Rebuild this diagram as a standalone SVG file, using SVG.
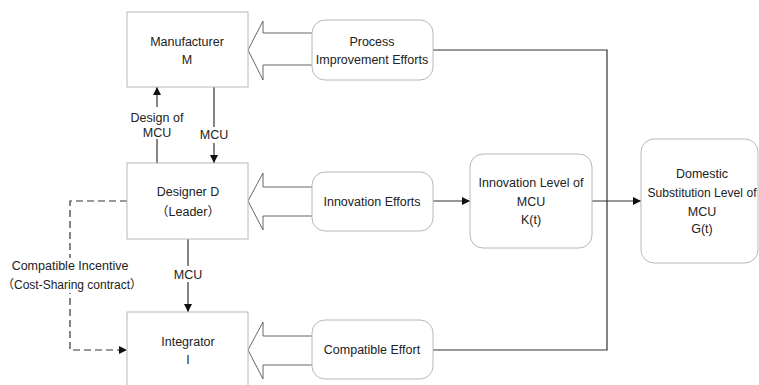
<svg xmlns="http://www.w3.org/2000/svg" width="759" height="385" viewBox="0 0 759 385">
<defs>
<marker id="ah" viewBox="0 0 10 10" refX="10" refY="5" markerWidth="8" markerHeight="8" markerUnits="userSpaceOnUse" orient="auto">
<path d="M0,0 L10,5 L0,10 z" fill="#111"/>
</marker>
</defs>
<style>
text{font-family:"Liberation Sans","Noto Sans CJK SC",Arial,sans-serif;font-size:12.5px;fill:#222;text-anchor:middle}
.box{fill:#fff;stroke:#b8b8b8;stroke-width:1}
.rbox{fill:#fff;stroke:#b8b8b8;stroke-width:1}
.blk{fill:#fff;stroke:#666;stroke-width:1}
.ln{fill:none;stroke:#333;stroke-width:1.2}
.dash{fill:none;stroke:#333;stroke-width:1.2;stroke-dasharray:7,4}
.bg{fill:#fff}
</style>
<rect width="759" height="385" fill="#fff"/>
<g id="connectors">
<path class="ln" d="M433,50 H607 V350 H433"/>
<path class="ln" d="M592,201 H641" marker-end="url(#ah)"/>
<path class="ln" d="M433,201 H470" marker-end="url(#ah)"/>
<path class="ln" d="M157,163 V87" marker-end="url(#ah)"/>
<path class="ln" d="M214,87 V163" marker-end="url(#ah)"/>
<path class="ln" d="M188,239 V312" marker-end="url(#ah)"/>
<path class="dash" d="M127,201 H70 V350 H127" marker-end="url(#ah)"/>
<rect class="bg" x="128" y="107" width="58" height="32"/>
<rect class="bg" x="198" y="127" width="32" height="16"/>
<rect class="bg" x="172" y="266" width="32" height="16"/>
<rect class="bg" x="3" y="258" width="136" height="35"/>
<text x="157" y="122">Design of</text>
<text x="157" y="137">MCU</text>
<text x="214" y="139">MCU</text>
<text x="188" y="279">MCU</text>
<text x="70" y="270">Compatible Incentive</text>
<text x="72" y="289" style="font-size:12px">（Cost-Sharing contract）</text>
<path class="blk" d="M312,33 H263 V21 L248,50 L263,80 V65 H312"/>
<path class="blk" d="M312,187 H263 V173 L248,201 L263,230 V216 H312"/>
<path class="blk" d="M312,336 H263 V322 L248,350 L263,379 V365 H312"/>
</g>
<g id="manufacturer">
<rect class="box" x="127" y="12" width="121" height="75"/>
<text x="187" y="46">Manufacturer</text>
<text x="187" y="64">M</text>
</g>
<g id="designer">
<rect class="box" x="127" y="163" width="121" height="76"/>
<text x="188" y="196">Designer D</text>
<text x="188" y="216">（Leader）</text>
</g>
<g id="integrator">
<rect class="box" x="127" y="312" width="121" height="80"/>
<text x="188" y="346">Integrator</text>
<text x="188" y="364">I</text>
</g>
<g id="process">
<rect class="rbox" x="312" y="20" width="121" height="60" rx="13"/>
<text x="372" y="46">Process</text>
<text x="372" y="64">Improvement Efforts</text>
</g>
<g id="innovation-efforts">
<rect class="rbox" x="312" y="172" width="121" height="59" rx="13"/>
<text x="372" y="206">Innovation Efforts</text>
</g>
<g id="compatible-effort">
<rect class="rbox" x="312" y="320" width="121" height="59" rx="13"/>
<text x="372" y="354">Compatible Effort</text>
</g>
<g id="innovation-level">
<rect class="rbox" x="470" y="154" width="122" height="94" rx="13"/>
<text x="531" y="187">Innovation Level of</text>
<text x="531" y="206">MCU</text>
<text x="531" y="224">K(t)</text>
</g>
<g id="domestic">
<rect class="rbox" x="641" y="139" width="117" height="124" rx="13"/>
<text x="702" y="178">Domestic</text>
<text x="702" y="197" textLength="109" lengthAdjust="spacingAndGlyphs">Substitution Level of</text>
<text x="702" y="216">MCU</text>
<text x="702" y="233">G(t)</text>
</g>
</svg>
